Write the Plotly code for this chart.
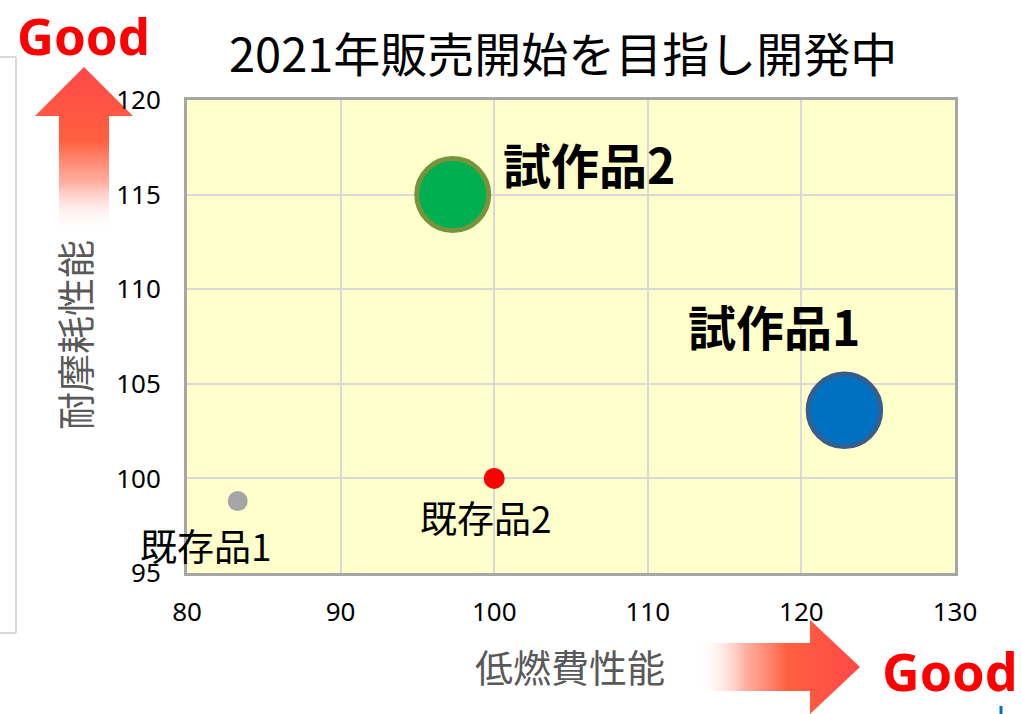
import base64
import plotly.graph_objects as go

# ---- data ----
products = ["既存品1", "既存品2", "試作品2", "試作品1"]
fuel_perf = [83.3, 100.0, 97.3, 122.8]        # 低燃費性能 (x)
wear_perf = [98.8, 100.0, 115.0, 103.6]       # 耐摩耗性能 (y)
bubble_size = [20, 21, 72, 73]
x_ticks = [80, 90, 100, 110, 120, 130]
y_ticks = [95, 100, 105, 110, 115, 120]

title_text = "2021年販売開始を目指し開発中"
x_title = "低燃費性能"
y_title = "耐摩耗性能"

# ---- styles ----
fill_colors = ["#A5A5A5", "#FF0000", "#00B050", "#0070C0"]
line_colors = ["#A5A5A5", "#FF0000", "#77933C", "#385D8A"]
line_widths = [0, 0, 5, 4.5]
label_fonts = [
    dict(size=37, color="black", family="Noto Sans CJK JP"),
    dict(size=37, color="black", family="Noto Sans CJK JP"),
    dict(size=48, color="black", family="Noto Sans CJK JP"),
    dict(size=48, color="black", family="Noto Sans CJK JP"),
]
label_bold = [False, False, True, True]
label_shift = [(-32, -44), (-8, -39), (136, 32), (-70, 85)]

W, H = 1021, 714
L, R, T, B = 187, 955, 100, 573  # plot area in pixels


def px(xp):
    return (xp - L) / (R - L)


def py(yp):
    return (B - yp) / (B - T)


fig = go.Figure()
fig.add_trace(go.Scatter(
    x=fuel_perf, y=wear_perf, mode="markers",
    marker=dict(size=bubble_size, sizemode="diameter", color=fill_colors,
                line=dict(color=line_colors, width=line_widths), opacity=1),
    hoverinfo="skip", showlegend=False, cliponaxis=False,
))

annotations = []
for name, xv, yv, f, b, (dx, dy) in zip(products, fuel_perf, wear_perf, label_fonts, label_bold, label_shift):
    annotations.append(dict(
        x=xv, y=yv, xref="x", yref="y", text=(f"<b>{name}</b>" if b else name),
        showarrow=False, font=f, xshift=dx, yshift=dy, xanchor="center", yanchor="middle"))

annotations += [
    dict(x=px(563), y=py(52), xref="paper", yref="paper", text=title_text, showarrow=False,
         font=dict(size=47, color="black", family="Noto Sans CJK JP"), xanchor="center", yanchor="middle"),
    dict(x=px(570), y=py(665), xref="paper", yref="paper", text=x_title, showarrow=False,
         font=dict(size=38, color="#595959", family="Noto Sans CJK JP"), xanchor="center", yanchor="middle"),
    dict(x=px(73), y=py(335), xref="paper", yref="paper", text=y_title, showarrow=False, textangle=-90,
         font=dict(size=38, color="#595959", family="Noto Sans CJK JP"), xanchor="center", yanchor="middle"),
    dict(x=px(83), y=py(35), xref="paper", yref="paper", text="<b>Good</b>", showarrow=False,
         font=dict(size=51, color="#FF0000", family="Noto Sans"), xanchor="center", yanchor="middle"),
    dict(x=px(950), y=py(670), xref="paper", yref="paper", text="<b>Good</b>", showarrow=False,
         font=dict(size=52, color="#FF0000", family="Noto Sans"), xanchor="center", yanchor="middle"),
]


def svg_uri(svg):
    return "data:image/svg+xml;base64," + base64.b64encode(svg.encode("utf-8")).decode("ascii")


up_svg = (
    '<svg xmlns="http://www.w3.org/2000/svg" width="98" height="165" viewBox="0 0 98 165" preserveAspectRatio="none">'
    '<defs><linearGradient id="g" x1="0" y1="0" x2="0" y2="1">'
    '<stop offset="0" stop-color="#FF4848"/>'
    '<stop offset="0.45" stop-color="#FF6040"/>'
    '<stop offset="0.7" stop-color="#FF8C78" stop-opacity="0.7"/>'
    '<stop offset="1" stop-color="#FFFFFF" stop-opacity="0"/>'
    '</linearGradient></defs>'
    '<path d="M49,0 L98,49 L74,49 L74,165 L24,165 L24,49 L0,49 Z" fill="url(#g)"/></svg>'
)
right_svg = (
    '<svg xmlns="http://www.w3.org/2000/svg" width="163" height="94" viewBox="0 0 163 94" preserveAspectRatio="none">'
    '<defs><linearGradient id="g" x1="0" y1="0" x2="1" y2="0">'
    '<stop offset="0" stop-color="#FFFFFF" stop-opacity="0"/>'
    '<stop offset="0.3" stop-color="#FF8C78" stop-opacity="0.7"/>'
    '<stop offset="0.55" stop-color="#FF6040"/>'
    '<stop offset="1" stop-color="#FF4848"/>'
    '</linearGradient></defs>'
    '<path d="M0,23 L113,23 L113,0 L163,47 L113,94 L113,71 L0,71 Z" fill="url(#g)"/></svg>'
)

images = [
    dict(source=svg_uri(up_svg), xref="paper", yref="paper", x=px(35), y=py(67),
         sizex=(133 - 35) / (R - L), sizey=(232 - 67) / (B - T), xanchor="left", yanchor="top",
         sizing="stretch", layer="below"),
    dict(source=svg_uri(right_svg), xref="paper", yref="paper", x=px(697), y=py(620),
         sizex=(860 - 697) / (R - L), sizey=(714 - 620) / (B - T), xanchor="left", yanchor="top",
         sizing="stretch", layer="below"),
]

frame = dict(color="#D9D9D9", width=2)
shapes = [
    dict(type="line", xref="paper", yref="paper", x0=px(16), x1=px(16), y0=py(57), y1=py(633), line=frame),
    dict(type="line", xref="paper", yref="paper", x0=px(0), x1=px(16), y0=py(57), y1=py(57), line=frame),
    dict(type="line", xref="paper", yref="paper", x0=px(0), x1=px(16), y0=py(633), y1=py(633), line=frame),
    dict(type="line", xref="paper", yref="paper", x0=px(1001), x1=px(1001), y0=py(706), y1=py(714),
         line=dict(color="#0070C0", width=3)),
]

fig.update_layout(
    width=W, height=H,
    margin=dict(l=L, r=W - R, t=T, b=H - B),
    paper_bgcolor="white", plot_bgcolor="#FFFFCC",
    font=dict(family="Noto Sans", color="black"),
    annotations=annotations, images=images, shapes=shapes,
    showlegend=False,
)
fig.update_xaxes(range=[80, 130], tickvals=x_ticks, ticks="", showgrid=True,
                 gridcolor="#D9D9D9", gridwidth=2, zeroline=False,
                 showline=True, mirror=True, linecolor="#A6A6A6", linewidth=3,
                 tickfont=dict(size=26, color="black", family="Noto Sans"),
                 ticklabelstandoff=14)
fig.update_yaxes(range=[95, 120], tickvals=y_ticks, ticks="", showgrid=True,
                 gridcolor="#D9D9D9", gridwidth=2, zeroline=False,
                 showline=True, mirror=True, linecolor="#A6A6A6", linewidth=3,
                 tickfont=dict(size=26, color="black", family="Noto Sans"),
                 ticklabelstandoff=18)

fig.write_html("out.html", config={"displayModeBar": False},
               post_script="document.body.style.margin='0';document.body.style.overflow='hidden';")
